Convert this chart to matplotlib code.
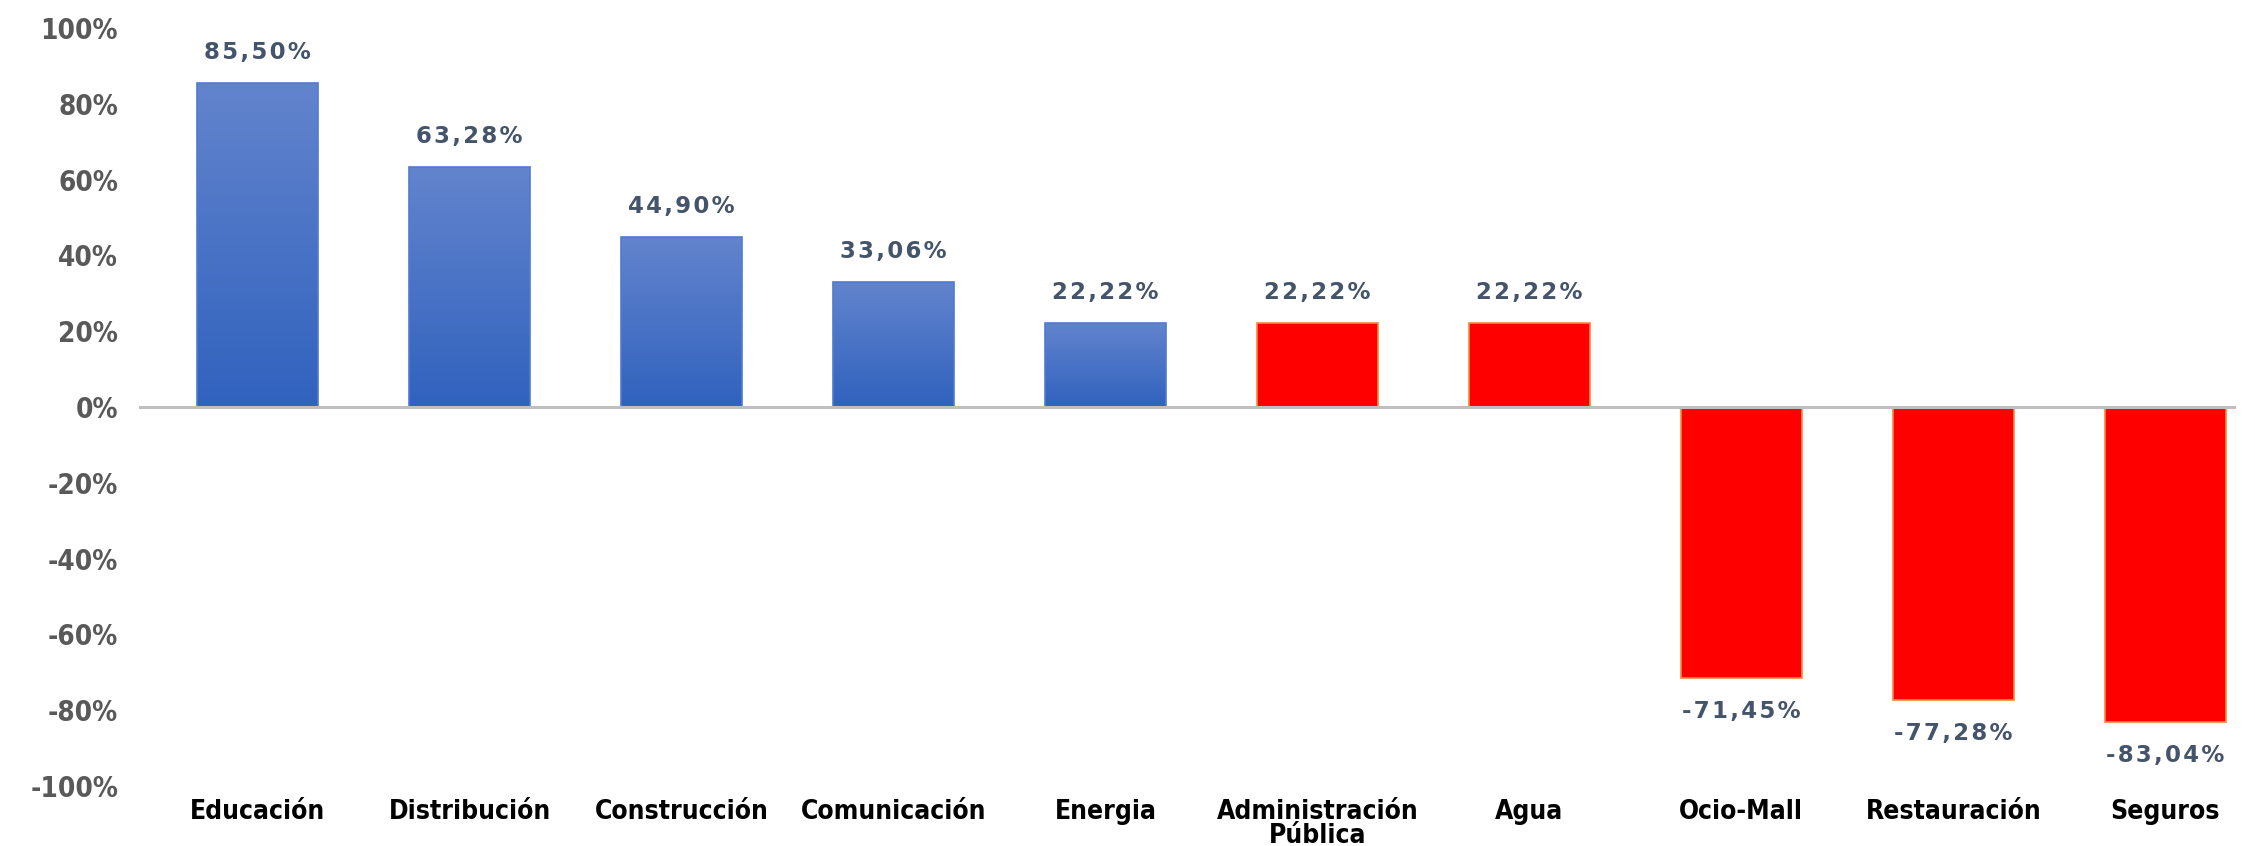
import matplotlib.pyplot as plt
import numpy as np
from matplotlib.colors import LinearSegmentedColormap

# Data
categories = ["Educación", "Distribución", "Construcción", "Comunicación", "Energia",
              "Administración\nPública", "Agua", "Ocio-Mall", "Restauración", "Seguros"]
values = [85.50, 63.28, 44.90, 33.06, 22.22, 22.22, 22.22, -71.45, -77.28, -83.04]
labels = ["85,50%", "63,28%", "44,90%", "33,06%", "22,22%", "22,22%", "22,22%",
          "-71,45%", "-77,28%", "-83,04%"]
is_blue = [True, True, True, True, True, False, False, False, False, False]
yticks = [-100, -80, -60, -40, -20, 0, 20, 40, 60, 80, 100]

fig = plt.figure(figsize=(22.55, 8.46), dpi=100)
ax = fig.add_axes([0.0616, 0.0709, 0.93, 0.8960])

x = np.arange(len(categories))
width = 0.57
blue_cmap = LinearSegmentedColormap.from_list("bl", ["#3062BE", "#6384CD"])

bars = ax.bar(x, values, width=width, zorder=2)
for b, v, blue in zip(bars, values, is_blue):
    if blue:
        b.set_facecolor("none")
        b.set_edgecolor("#4F7BD0")
        b.set_linewidth(1.2)
        grad = np.linspace(0, 1, 256).reshape(-1, 1)
        x0 = b.get_x()
        im = ax.imshow(grad, extent=[x0, x0 + width, 0, v], origin="lower",
                       aspect="auto", cmap=blue_cmap, zorder=1.5)
        im.set_clip_path(b)
    else:
        b.set_facecolor("#FF0000")
        b.set_edgecolor("#F08A3C")
        b.set_linewidth(1.2)

# data labels, slightly letter-spaced like the original
for xi, v, lab in zip(x, values, labels):
    off = 22 if v >= 0 else -24
    ax.annotate("\u200a".join(lab), (xi, v), xytext=(0, off), textcoords="offset points",
                ha="center", va="center", fontsize=16.5, fontweight="bold",
                color="#44546A", family="DejaVu Sans")

ax.axhline(0, color="#BFBFBF", linewidth=2.2, zorder=3)

ax.set_xlim(-0.56, 9.334)
ax.set_ylim(-100, 100)
ax.set_yticks(yticks)
ax.set_yticklabels([f"{t}%" for t in yticks], fontsize=20, fontweight="bold",
                   color="#595959", family="DejaVu Sans", fontstretch="condensed")
ax.set_xticks(x)
ax.set_xticklabels(categories, fontsize=19, fontweight="bold", color="black",
                   family="DejaVu Sans", fontstretch="condensed", linespacing=0.9)
ax.tick_params(axis="both", length=0)
ax.tick_params(axis="y", pad=15)
ax.tick_params(axis="x", pad=9)
for s in ax.spines.values():
    s.set_visible(False)

fig.savefig("out.png", dpi=100, facecolor="white")
